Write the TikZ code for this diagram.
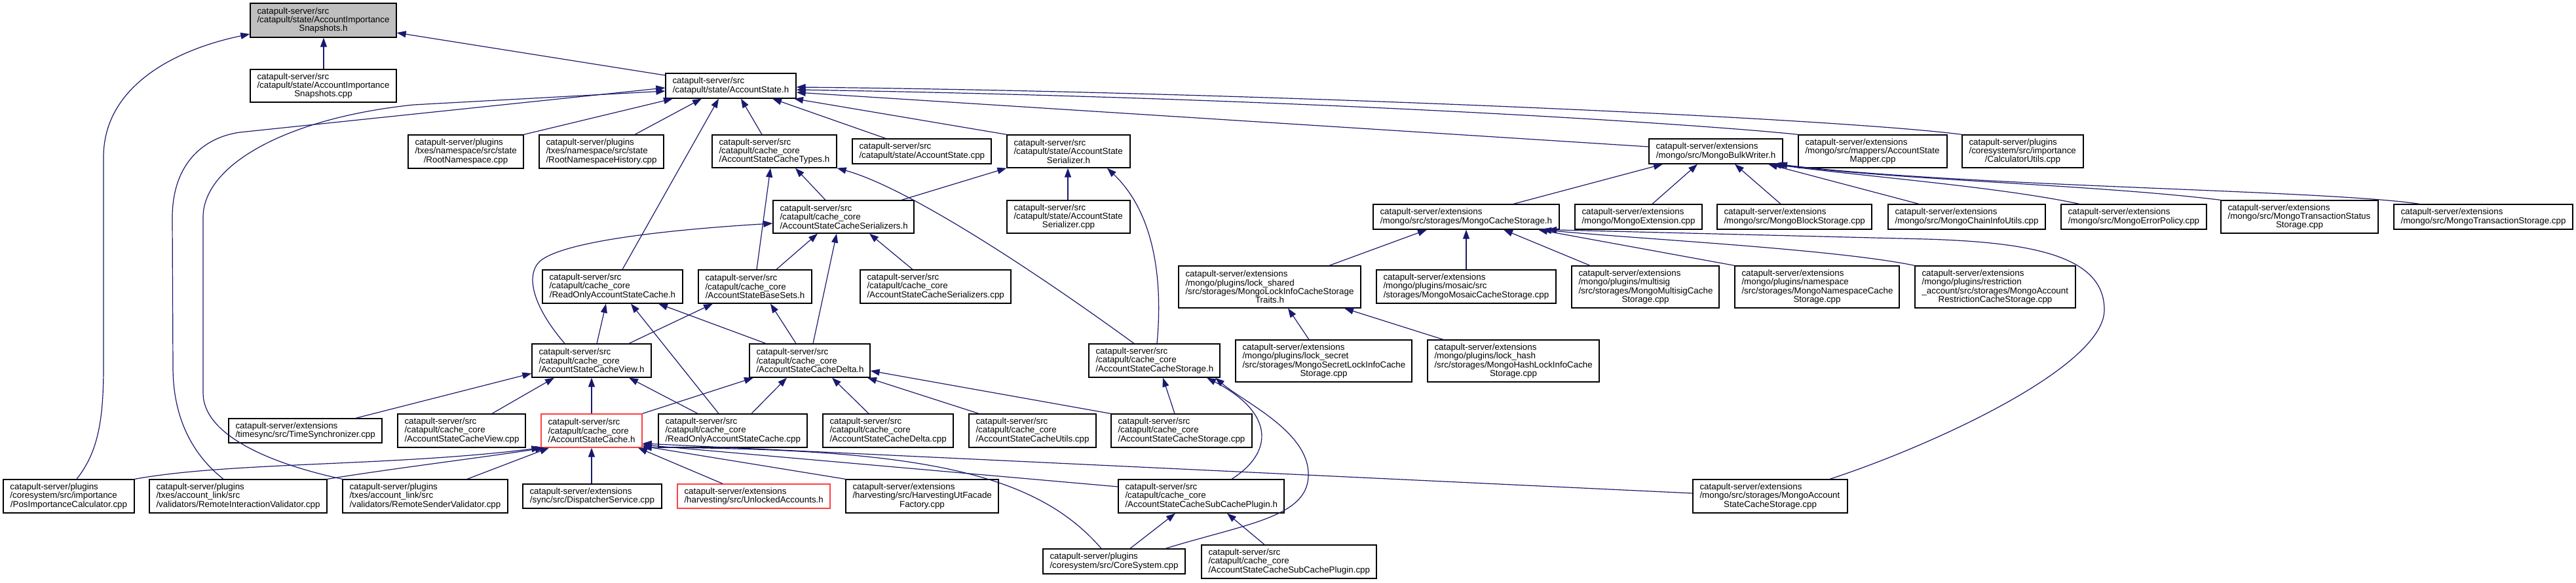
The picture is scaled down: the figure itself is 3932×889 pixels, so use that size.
\documentclass[tikz,border=0pt]{standalone}
\usepackage{fontspec}
\setmainfont{Liberation Sans}
\usetikzlibrary{arrows.meta}
\definecolor{edgeblue}{RGB}{25,25,112}
\definecolor{rootgray}{RGB}{191,191,191}
\definecolor{redborder}{RGB}{255,64,64}
\hyphenpenalty=10000
\exhyphenpenalty=10000
\setlength{\parindent}{0pt}
\newcommand{\ctrline}[1]{\hspace*{\fill}#1\hspace*{\fill}\null}
\newcommand{\mkbox}[7][]{%
  \pgfmathsetmacro\bxw{#5-#3}\pgfmathsetmacro\bxh{#6-#4}\pgfmathsetmacro\bxt{#5-#3-21}%
  \pgfmathsetmacro\bxx{(#3+#5)/2}\pgfmathsetmacro\bxy{(#4+#6)/2}%
  \node[box,#1,minimum width=\bxw pt,minimum height=\bxh pt,text width=\bxt pt] (#2) at (\bxx,\bxy) {#7};}
\tikzset{
  box/.style={draw=black,line width=1.3pt,fill=white,inner sep=0pt,align=left,
    font=\fontsize{13.36}{13.3}\selectfont},
  dep/.style={draw=edgeblue,line width=1.2pt,-{Triangle[length=14pt,width=10pt]}}
}
\begin{document}
\begin{tikzpicture}[x=1pt,y=-1pt]
\useasboundingbox (0,0) rectangle (3932,889);
% nodes
\mkbox[fill=rootgray]{snh}{382}{5}{605}{57}{catapult-server/src\\/catapult/state/AccountImportance\\\ctrline{Snapshots.h}}
\mkbox{sncpp}{382}{106}{605}{156}{catapult-server/src\\/catapult/state/AccountImportance\\\ctrline{Snapshots.cpp}}
\mkbox{ash}{1016}{112}{1215}{150}{catapult-server/src\\\ctrline{/catapult/state/AccountState.h}}
\mkbox{rns}{623}{206}{799}{257}{catapult-server/plugins\\/txes/namespace/src/state\\\ctrline{/RootNamespace.cpp}}
\mkbox{rnsh}{823}{206}{1013}{257}{catapult-server/plugins\\/txes/namespace/src/state\\\ctrline{/RootNamespaceHistory.cpp}}
\mkbox{ctypes}{1087}{206}{1277}{256}{catapult-server/src\\/catapult/cache\_core\\\ctrline{/AccountStateCacheTypes.h}}
\mkbox{ascpp}{1301}{212}{1513}{250}{catapult-server/src\\\ctrline{/catapult/state/AccountState.cpp}}
\mkbox{sersh}{1537}{206}{1725}{256}{catapult-server/src\\/catapult/state/AccountState\\\ctrline{Serializer.h}}
\mkbox{bulk}{2517}{212}{2721}{250}{catapult-server/extensions\\\ctrline{/mongo/src/MongoBulkWriter.h}}
\mkbox{mapper}{2745}{206}{2972}{256}{catapult-server/extensions\\/mongo/src/mappers/AccountState\\\ctrline{Mapper.cpp}}
\mkbox{calc}{2995}{206}{3180}{256}{catapult-server/plugins\\/coresystem/src/importance\\\ctrline{/CalculatorUtils.cpp}}
\mkbox{csers}{1180}{306}{1395}{356}{catapult-server/src\\/catapult/cache\_core\\\ctrline{/AccountStateCacheSerializers.h}}
\mkbox{serscpp}{1537}{306}{1725}{356}{catapult-server/src\\/catapult/state/AccountState\\\ctrline{Serializer.cpp}}
\mkbox{mcs}{2096}{312}{2380}{350}{catapult-server/extensions\\\ctrline{/mongo/src/storages/MongoCacheStorage.h}}
\mkbox{mext}{2404}{312}{2598}{350}{catapult-server/extensions\\\ctrline{/mongo/MongoExtension.cpp}}
\mkbox{mblock}{2621}{312}{2857}{350}{catapult-server/extensions\\\ctrline{/mongo/src/MongoBlockStorage.cpp}}
\mkbox{mchain}{2882}{312}{3122}{350}{catapult-server/extensions\\\ctrline{/mongo/src/MongoChainInfoUtils.cpp}}
\mkbox{merr}{3146}{312}{3368}{350}{catapult-server/extensions\\\ctrline{/mongo/src/MongoErrorPolicy.cpp}}
\mkbox{mtstat}{3390}{306}{3630}{356}{catapult-server/extensions\\/mongo/src/MongoTransactionStatus\\\ctrline{Storage.cpp}}
\mkbox{mtx}{3654}{312}{3927}{350}{catapult-server/extensions\\\ctrline{/mongo/src/MongoTransactionStorage.cpp}}
\mkbox{roh}{828}{412}{1042}{463}{catapult-server/src\\/catapult/cache\_core\\\ctrline{/ReadOnlyAccountStateCache.h}}
\mkbox{bsets}{1066}{412}{1239}{463}{catapult-server/src\\/catapult/cache\_core\\\ctrline{/AccountStateBaseSets.h}}
\mkbox{cserscpp}{1313}{412}{1543}{463}{catapult-server/src\\/catapult/cache\_core\\\ctrline{/AccountStateCacheSerializers.cpp}}
\mkbox{traits}{1799}{406}{2077}{470}{catapult-server/extensions\\/mongo/plugins/lock\_shared\\/src/storages/MongoLockInfoCacheStorage\\\ctrline{Traits.h}}
\mkbox{mmosaic}{2101}{412}{2375}{463}{catapult-server/extensions\\/mongo/plugins/mosaic/src\\\ctrline{/storages/MongoMosaicCacheStorage.cpp}}
\mkbox{mmulti}{2399}{406}{2624}{470}{catapult-server/extensions\\/mongo/plugins/multisig\\/src/storages/MongoMultisigCache\\\ctrline{Storage.cpp}}
\mkbox{mns}{2648}{406}{2899}{470}{catapult-server/extensions\\/mongo/plugins/namespace\\/src/storages/MongoNamespaceCache\\\ctrline{Storage.cpp}}
\mkbox{mrestr}{2923}{406}{3168}{470}{catapult-server/extensions\\/mongo/plugins/restriction\\\_account/src/storages/MongoAccount\\\ctrline{RestrictionCacheStorage.cpp}}
\mkbox{cview}{812}{525}{994}{576}{catapult-server/src\\/catapult/cache\_core\\\ctrline{/AccountStateCacheView.h}}
\mkbox{delta}{1144}{525}{1328}{576}{catapult-server/src\\/catapult/cache\_core\\\ctrline{/AccountStateCacheDelta.h}}
\mkbox{cstor}{1662}{525}{1862}{576}{catapult-server/src\\/catapult/cache\_core\\\ctrline{/AccountStateCacheStorage.h}}
\mkbox{msecret}{1886}{519}{2155}{583}{catapult-server/extensions\\/mongo/plugins/lock\_secret\\/src/storages/MongoSecretLockInfoCache\\\ctrline{Storage.cpp}}
\mkbox{mhash}{2179}{519}{2441}{583}{catapult-server/extensions\\/mongo/plugins/lock\_hash\\/src/storages/MongoHashLockInfoCache\\\ctrline{Storage.cpp}}
\mkbox{timesync}{349}{639}{583}{676}{catapult-server/extensions\\\ctrline{/timesync/src/TimeSynchronizer.cpp}}
\mkbox{cviewcpp}{607}{632}{802}{683}{catapult-server/src\\/catapult/cache\_core\\\ctrline{/AccountStateCacheView.cpp}}
\mkbox[draw=redborder]{cache}{826}{632}{980}{683}{catapult-server/src\\/catapult/cache\_core\\\ctrline{/AccountStateCache.h}}
\mkbox{rocpp}{1005}{632}{1232}{683}{catapult-server/src\\/catapult/cache\_core\\\ctrline{/ReadOnlyAccountStateCache.cpp}}
\mkbox{deltacpp}{1256}{632}{1455}{683}{catapult-server/src\\/catapult/cache\_core\\\ctrline{/AccountStateCacheDelta.cpp}}
\mkbox{utilscpp}{1479}{632}{1673}{683}{catapult-server/src\\/catapult/cache\_core\\\ctrline{/AccountStateCacheUtils.cpp}}
\mkbox{cstorcpp}{1696}{632}{1911}{683}{catapult-server/src\\/catapult/cache\_core\\\ctrline{/AccountStateCacheStorage.cpp}}
\mkbox{pos}{5}{732}{205}{783}{catapult-server/plugins\\/coresystem/src/importance\\\ctrline{/PosImportanceCalculator.cpp}}
\mkbox{rinter}{228}{732}{499}{783}{catapult-server/plugins\\/txes/account\_link/src\\\ctrline{/validators/RemoteInteractionValidator.cpp}}
\mkbox{rsend}{523}{732}{775}{783}{catapult-server/plugins\\/txes/account\_link/src\\\ctrline{/validators/RemoteSenderValidator.cpp}}
\mkbox{disp}{798}{739}{1010}{776}{catapult-server/extensions\\\ctrline{/sync/src/DispatcherService.cpp}}
\mkbox[draw=redborder]{unlock}{1034}{739}{1267}{776}{catapult-server/extensions\\\ctrline{/harvesting/src/UnlockedAccounts.h}}
\mkbox{harv}{1291}{732}{1524}{783}{catapult-server/extensions\\/harvesting/src/HarvestingUtFacade\\\ctrline{Factory.cpp}}
\mkbox{subh}{1707}{732}{1960}{783}{catapult-server/src\\/catapult/cache\_core\\\ctrline{/AccountStateCacheSubCachePlugin.h}}
\mkbox{mascs}{2584}{732}{2820}{783}{catapult-server/extensions\\/mongo/src/storages/MongoAccount\\\ctrline{StateCacheStorage.cpp}}
\mkbox{core}{1592}{838}{1809}{876}{catapult-server/plugins\\\ctrline{/coresystem/src/CoreSystem.cpp}}
\mkbox{subcpp}{1834}{832}{2101}{883}{catapult-server/src\\/catapult/cache\_core\\\ctrline{/AccountStateCacheSubCachePlugin.cpp}}
% edges into AccountImportanceSnapshots.h
\draw[dep] (494,0 |- sncpp.north) -- (494,0 |- snh.south);
\draw[dep] (ash.west |- 0,115) -- (snh.east |- 0,50);
\draw[dep] (117,0 |- pos.north) .. controls (150,690) and (158,640) .. (158,560) -- (158,240) .. controls (158,130) and (270,75) .. (snh.west |- 0,52);
% edges into AccountState.h
\draw[dep] (rns.north east) -- (1027,0 |- ash.south);
\draw[dep] (969,0 |- rnsh.north) -- (1071,0 |- ash.south);
\draw[dep] (950,0 |- roh.north) -- (1097,0 |- ash.south);
\draw[dep] (1163,0 |- ctypes.north) -- (1131,0 |- ash.south);
\draw[dep] (1352,0 |- ascpp.north) -- (1179,0 |- ash.south);
\draw[dep] (sersh.north west) -- (1212,0 |- ash.south);
\draw[dep] (341,0 |- rinter.north) .. controls (295,695) and (264,640) .. (264,560) -- (263,330) .. controls (264,250) and (310,210) .. (366,202) -- (ash.west |- 0,134);
\draw[dep] (rsend.north west) .. controls (400,705) and (310,660) .. (310,600) -- (310,330) .. controls (312,250) and (440,180) .. (631,160) -- (ash.west |- 0,139);
\draw[dep] (calc.north west) .. controls (2800,180) and (1900,140) .. (ash.east |- 0,133);
\draw[dep] (mapper.north west) .. controls (2600,190) and (2000,150) .. (ash.east |- 0,137);
\draw[dep] (bulk.west |- 0,224) -- (ash.east |- 0,141);
% edges into AccountStateCacheTypes.h
\draw[dep] (1155,0 |- bsets.north) -- (1176,0 |- ctypes.south);
\draw[dep] (1260,0 |- csers.north) -- (1214,0 |- ctypes.south);
\draw[dep] (1731,0 |- cstor.north) .. controls (1560,400) and (1380,285) .. (ctypes.south east);
% edges into AccountStateSerializer.h
\draw[dep] (1376,0 |- csers.north) -- (sersh.south west);
\draw[dep] (1630,0 |- serscpp.north) -- (1630,0 |- sersh.south);
\draw[dep] (1766,0 |- cstor.north) .. controls (1774,440) and (1767,330) .. (1690,0 |- sersh.south);
% edges into AccountStateCacheSerializers.h
\draw[dep] (1185,0 |- bsets.north) -- (1248,0 |- csers.south);
\draw[dep] (1241,0 |- delta.north) -- (1277,0 |- csers.south);
\draw[dep] (1393,0 |- cserscpp.north) -- (1327,0 |- csers.south);
\draw[dep] (862,0 |- cview.north) .. controls (815,470) and (800,420) .. (825,398) .. controls (860,370) and (1000,352) .. (csers.west |- 0,341);
% edges into ReadOnlyAccountStateCache.h
\draw[dep] (911,0 |- cview.north) -- (925,0 |- roh.south);
\draw[dep] (1169,0 |- delta.north) -- (1005,0 |- roh.south);
\draw[dep] (1097,0 |- rocpp.north) -- (963,0 |- roh.south);
% edges into AccountStateBaseSets.h
\draw[dep] (960,0 |- cview.north) -- (1088,0 |- bsets.south);
\draw[dep] (1215,0 |- delta.north) -- (1176,0 |- bsets.south);
% edges into AccountStateCacheView.h
\draw[dep] (543,0 |- timesync.north) -- (cview.west |- 0,570);
\draw[dep] (751,0 |- cviewcpp.north) -- (846,0 |- cview.south);
\draw[dep] (903,0 |- cache.north) -- (903,0 |- cview.south);
\draw[dep] (1065,0 |- rocpp.north) -- (960,0 |- cview.south);
% edges into AccountStateCacheDelta.h
\draw[dep] (cache.north east) -- (1150,0 |- delta.south);
\draw[dep] (1147,0 |- rocpp.north) -- (1201,0 |- delta.south);
\draw[dep] (1326,0 |- deltacpp.north) -- (1270,0 |- delta.south);
\draw[dep] (1494,0 |- utilscpp.north) -- (1324,0 |- delta.south);
\draw[dep] (1695,0 |- cstorcpp.north) -- (delta.east |- 0,566);
% edges into AccountStateCacheStorage.h
\draw[dep] (1793,0 |- cstorcpp.north) -- (1775,0 |- cstor.south);
\draw[dep] (1880,0 |- subh.north) .. controls (1945,690) and (1945,630) .. (1842,0 |- cstor.south);
\draw[dep] (1779,0 |- core.north) .. controls (1900,800) and (1995,790) .. (1997,727) .. controls (2000,660) and (1900,615) .. (1855,0 |- cstor.south);
% edges into AccountStateCache.h
\draw[dep] (pos.north east) .. controls (350,705) and (600,712) .. (cache.south west);
\draw[dep] (rinter.north east) .. controls (600,715) and (740,698) .. (831,0 |- cache.south);
\draw[dep] (713,0 |- rsend.north) -- (838,0 |- cache.south);
\draw[dep] (903,0 |- disp.north) -- (903,0 |- cache.south);
\draw[dep] (1103,0 |- unlock.north) -- (974,0 |- cache.south);
\draw[dep] (harv.north west) -- (cache.east |- 0,681);
\draw[dep] (subh.west |- 0,743) -- (cache.east |- 0,679);
\draw[dep] (mascs.west |- 0,753) -- (cache.east |- 0,677);
\draw[dep] (1681,0 |- core.north) .. controls (1580,720) and (1400,685) .. (cache.east |- 0,683);
% edges into MongoBulkWriter.h
\draw[dep] (2310,0 |- mcs.north) -- (2538,0 |- bulk.south);
\draw[dep] (2522,0 |- mext.north) -- (2591,0 |- bulk.south);
\draw[dep] (2718,0 |- mblock.north) -- (2648,0 |- bulk.south);
\draw[dep] (2929,0 |- mchain.north) -- (2699,0 |- bulk.south);
\draw[dep] (3174,0 |- merr.north) .. controls (3050,285) and (2850,270) .. (2705,0 |- bulk.south);
\draw[dep] (mtstat.north west) .. controls (3200,282) and (2900,275) .. (2710,0 |- bulk.south);
\draw[dep] (3693,0 |- mtx.north) .. controls (3550,290) and (3000,285) .. (2714,0 |- bulk.south);
% edges into MongoCacheStorage.h
\draw[dep] (2029,0 |- traits.north) -- (2178,0 |- mcs.south);
\draw[dep] (2238,0 |- mmosaic.north) -- (2238,0 |- mcs.south);
\draw[dep] (2427,0 |- mmulti.north) -- (2295,0 |- mcs.south);
\draw[dep] (mns.north west) -- (2348,0 |- mcs.south);
\draw[dep] (mrestr.north west) .. controls (2800,380) and (2500,365) .. (2354,0 |- mcs.south);
\draw[dep] (2793,0 |- mascs.north) .. controls (2950,680) and (3212,560) .. (3212,473) .. controls (3212,390) and (3100,370) .. (2940,365) -- (2362,0 |- mcs.south);
% edges into MongoLockInfoCacheStorageTraits.h
\draw[dep] (1998,0 |- msecret.north) -- (1966,0 |- traits.south);
\draw[dep] (2203,0 |- mhash.north) -- (2052,0 |- traits.south);
% edges into AccountStateCacheSubCachePlugin.h
\draw[dep] (1725,0 |- core.north) -- (1794,0 |- subh.south);
\draw[dep] (1930,0 |- subcpp.north) -- (1873,0 |- subh.south);
\end{tikzpicture}
\end{document}
